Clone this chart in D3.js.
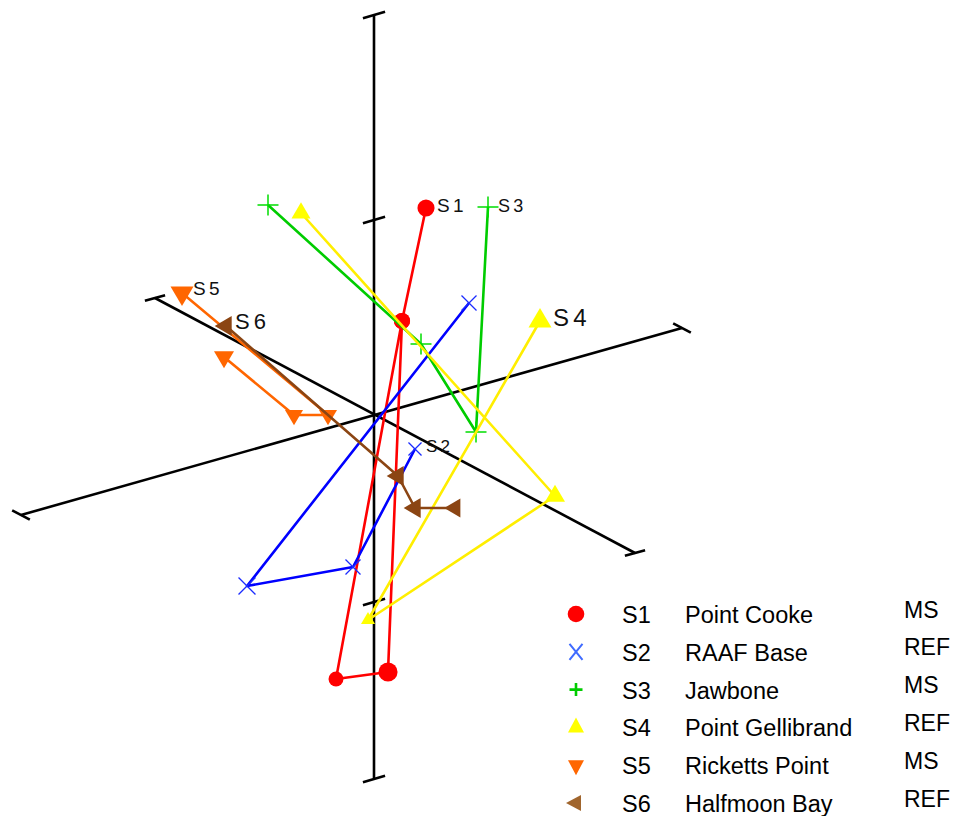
<!DOCTYPE html>
<html>
<head>
<meta charset="utf-8">
<script src="https://cdn.jsdelivr.net/npm/d3@7"></script>
<style>
  html, body { margin: 0; padding: 0; background: #fff; }
  svg { display: block; font-family: "Liberation Sans", Arial, sans-serif; }
</style>
</head>
<body>
<svg id="chart" width="959" height="816"></svg>
<script>
// ---------------- DATA (projected plane units, plus depth) ----------------
const seriesIds   = ["S1", "S2", "S3", "S4", "S5", "S6"];
const siteNames   = ["Point Cooke", "RAAF Base", "Jawbone", "Point Gellibrand", "Ricketts Point", "Halfmoon Bay"];
const siteTypes   = ["MS", "REF", "MS", "REF", "MS", "REF"];

// each point: [u, v, depth]
const s1 = [[5.2, 20.6, 0.6], [2.8, 9.3, -0.6], [-3.8, -26.5, -2], [1.4, -25.8, 3], [2.8, 9.3, -0.6]];
const s2 = [[4.1, -3.5, -2.6], [-2.1, -15.3, 0], [-12.7, -17.2, 2.6], [9.5, 11.1, 0]];
const s3 = [[11.4, 20.7, 0], [10.2, -1.8, 0], [4.7, 7.0, 0], [-10.6, 20.9, 0]];
const s4 = [[16.6, 9.3, 3], [-0.6, -20.6, -6], [18.1, -8.2, 0], [-7.3, 20.1, -1]];
const s5 = [[-19.2, 12.1, 3], [-4.6, -0.1, -2], [-8.0, -0.1, -2], [-15.0, 5.7, 0]];
const s6 = [[-14.8, 8.8, 0], [2.4, -6.2, 0], [4.1, -9.4, 0], [8.1, -9.4, -1]];

// axis end points [u, v]
const axisVertical = [[0, 39.9], [0, -36.4]];
const axisA        = [[-35.3, -10.1], [30.8, 8.6]];
const axisB        = [[-21.9, 11.6], [26.1, -13.9]];
const verticalTicks = [39.9, 19.4, -18.8, -36.5];

// ---------------- STYLES ----------------
const lineColors   = ["#ff0000", "#0000ff", "#00cc00", "#ffee00", "#ff6600", "#8b4513"];
const markColors   = ["#ff0000", "#1a2bff", "#00dd00", "#ffff00", "#ff6600", "#8b4513"];
const legendColors = ["#ff0000", "#3f6bff", "#00cc00", "#ffff00", "#ff6600", "#a0652d"];
const shapes       = ["circle", "x", "plus", "up", "down", "left"];
const labelFont    = [19, 17, 18, 24, 19, 22];
const labelOff     = [[11, 4], [11, 3], [10, 5], [13, 5], [11, 2], [9, 3]];

const allSeries = [s1, s2, s3, s4, s5, s6];

const W = 959, H = 816;
const x = d3.scaleLinear().domain([-37.4, 58.5]).range([0, W]);
const y = d3.scaleLinear().domain([41.4, -40.2]).range([0, H]);
const depthScale = d3.scaleLinear().domain([-10, 10]).range([0.5, 1.5]);

const svg = d3.select("#chart");

// ---------------- AXES ----------------
const gAx = svg.append("g").attr("stroke", "#000").attr("stroke-width", 2.6).attr("fill", "none");
function px(p) { return [x(p[0]), y(p[1])]; }
function unitDir(a) {
  const p0 = px(a[0]), p1 = px(a[1]);
  const dx = p1[0] - p0[0], dy = p1[1] - p0[1], L = Math.hypot(dx, dy);
  return [dx / L, dy / L];
}
const line = d3.line().x(d => x(d[0])).y(d => y(d[1]));
[axisVertical, axisA, axisB].forEach(a => gAx.append("path").attr("d", line(a)));

function tick(center, dir, half) {
  gAx.append("line")
    .attr("x1", center[0] - dir[0] * half).attr("y1", center[1] - dir[1] * half)
    .attr("x2", center[0] + dir[0] * half).attr("y2", center[1] + dir[1] * half);
}
const dirA = unitDir(axisA), dirB = unitDir(axisB);
verticalTicks.forEach(v => tick([x(0), y(v)], dirA, 11.5));
axisA.forEach(p => tick(px(p), dirB, 10));
axisB.forEach(p => tick(px(p), dirA, 10.5));

// ---------------- MARKERS ----------------
function drawMarker(g, shape, cx, cy, f, color, legend) {
  if (shape === "circle") {
    g.append("circle").attr("cx", cx).attr("cy", cy).attr("r", 8.3 * f).attr("fill", color);
  } else if (shape === "x") {
    const sx = (legend ? 6.5 : 7.5) * f, sy = (legend ? 8 : 7.5) * f;
    g.append("path").attr("d", `M${cx - sx},${cy - sy}L${cx + sx},${cy + sy}M${cx - sx},${cy + sy}L${cx + sx},${cy - sy}`)
      .attr("stroke", color).attr("stroke-width", legend ? 2 : 1.3).attr("fill", "none");
  } else if (shape === "plus") {
    const s = (legend ? 6.5 : 10.5) * f;
    g.append("path").attr("d", `M${cx - s},${cy}L${cx + s},${cy}M${cx},${cy - s}L${cx},${cy + s}`)
      .attr("stroke", color).attr("stroke-width", legend ? 2.6 : 1.5).attr("fill", "none");
  } else {
    const w = (legend ? 16 : 20) * f, h = (legend ? 15 : 17) * f;
    let pts;
    if (shape === "up") pts = [[cx, cy - 2 * h / 3], [cx - w / 2, cy + h / 3], [cx + w / 2, cy + h / 3]];
    else if (shape === "down") pts = [[cx, cy + 2 * h / 3], [cx - w / 2, cy - h / 3], [cx + w / 2, cy - h / 3]];
    else pts = [[cx - 2 * h / 3, cy], [cx + h / 3, cy - w / 2], [cx + h / 3, cy + w / 2]];
    g.append("path").attr("d", "M" + pts.map(p => p.join(",")).join("L") + "Z").attr("fill", color);
  }
}

// ---------------- SERIES ----------------
allSeries.forEach((s, i) => {
  const g = svg.append("g");
  g.append("path").attr("d", line(s)).attr("fill", "none")
    .attr("stroke", lineColors[i]).attr("stroke-width", 2.6).attr("stroke-linejoin", "round");
  s.forEach(p => drawMarker(g, shapes[i], x(p[0]), y(p[1]), depthScale(p[2]), markColors[i], false));
  g.append("text")
    .attr("x", x(s[0][0]) + labelOff[i][0]).attr("y", y(s[0][1]) + labelOff[i][1])
    .attr("font-size", labelFont[i]).attr("letter-spacing", labelFont[i] * 0.18)
    .attr("fill", "#111").text(seriesIds[i]);
});

// ---------------- LEGEND ----------------
const leg = svg.append("g");
const legY = d3.scaleLinear().domain([0, 5]).range([614, 803]);
seriesIds.forEach((id, i) => {
  const cy = legY(i);
  drawMarker(leg, shapes[i], 576, cy, 1, legendColors[i], true);
  leg.append("text").attr("x", 622).attr("y", cy + 9).attr("font-size", 23.5).attr("fill", "#000").text(id);
  leg.append("text").attr("x", 685).attr("y", cy + 9).attr("font-size", 23.5).attr("fill", "#000").text(siteNames[i]);
  leg.append("text").attr("x", 904).attr("y", cy + 3.5).attr("font-size", 23).attr("fill", "#000").text(siteTypes[i]);
});
</script>
</body>
</html>
